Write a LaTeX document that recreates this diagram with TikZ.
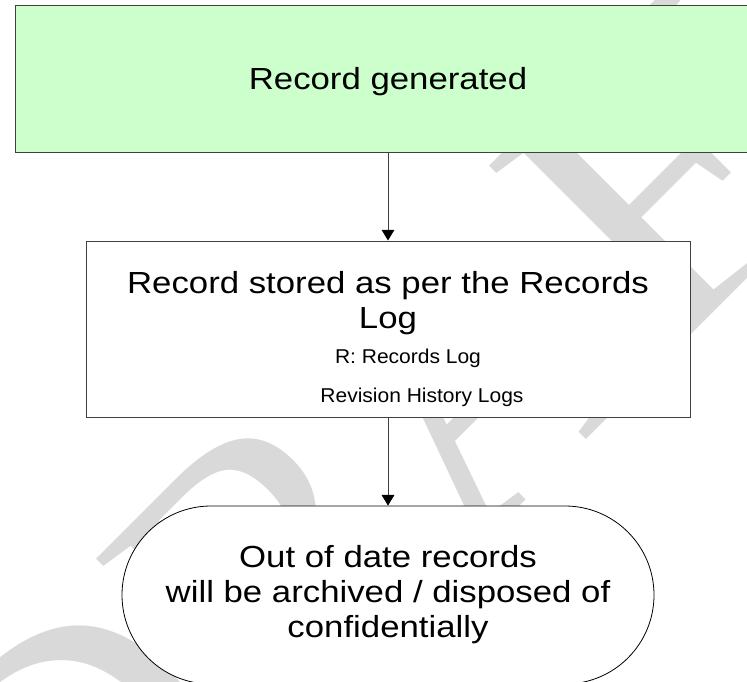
\documentclass[tikz,border=0pt]{standalone}
\usepackage{fontspec}
\setmainfont{Liberation Sans}[FakeStretch=1.14]
\newfontfamily\smallfam{Liberation Sans}[FakeStretch=1.05]
\newfontfamily\markfam{Liberation Serif}
\usepackage{xcolor}
\definecolor{recgreen}{RGB}{204,255,204}
\definecolor{edgegray}{RGB}{64,64,64}
\definecolor{markgray}{RGB}{217,217,217}
\usepackage{tikz}
\usetikzlibrary{positioning,arrows.meta,shapes.misc}

\tikzset{
  bigtext/.style={font=\fontsize{30.5}{35}\selectfont,align=center,inner sep=0pt},
  procbox/.style={bigtext,draw=edgegray,line width=1pt,fill=white},
  termbox/.style={bigtext,rounded rectangle,draw=black,line width=0.8pt,fill=white},
  smalllabel/.style={font=\smallfam\fontsize{20}{24}\selectfont,inner sep=0pt},
  flowarrow/.style={draw=edgegray,line width=1pt,-{Triangle[width=12.7pt,length=10.7pt,color=black]}}
}

\begin{document}
\begin{tikzpicture}[x=1pt,y=-1pt]
  \useasboundingbox (0,0) rectangle (747,681);
  \node[font=\markfam\fontsize{400}{400}\selectfont,text=markgray,rotate=45] (draftmark) at (440,400) {DRAFT};
  \node[procbox,fill=recgreen,minimum width=746,minimum height=147,text depth=0pt] (gen) at (388,78.7) {Record generated};
  \node[procbox,minimum width=604,minimum height=176] (store) at (388,329) {};
  \node[bigtext] (storetext) at (388,303) {Record stored as per the Records\\Log};
  \node[smalllabel] (rlog) at (408,358.5) {R: Records Log};
  \node[smalllabel] (revlog) at (422,397) {Revision History Logs};
  \node[termbox,minimum width=532,minimum height=178] (dispose) at (388,595)
    {Out of date records\\will be archived / disposed of\\confidentially};
  \draw[flowarrow] (gen) -- (store);
  \draw[flowarrow] (store) -- (dispose);
\end{tikzpicture}
\end{document}
